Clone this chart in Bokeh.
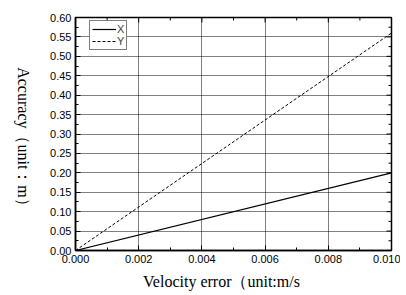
import math
from bokeh.plotting import figure
from bokeh.layouts import row
from bokeh.models import (LinearAxis, FixedTicker, Range1d, Label, Legend, LegendItem,
                          PrintfTickFormatter, Grid)
from bokeh.embed import file_html
from bokeh.resources import INLINE

velocity_error = [0.0, 0.010]
accuracy_x = [0.0, 0.20]
accuracy_y = [0.0, 0.56]
x_ticks = [0.000, 0.002, 0.004, 0.006, 0.008, 0.010]
y_ticks = [0.00, 0.05, 0.10, 0.15, 0.20, 0.25, 0.30, 0.35, 0.40, 0.45, 0.50, 0.55, 0.60]
x_minor = [0.001, 0.003, 0.005, 0.007, 0.009]
y_minor = [0.025, 0.075, 0.125, 0.175, 0.225, 0.275, 0.325, 0.375, 0.425, 0.475, 0.525, 0.575]
X_MIN, X_MAX = 0.0, 0.010
Y_MIN, Y_MAX = 0.0, 0.60
X_TITLE = "Velocity error（unit:m/s"
Y_TITLE = "Accuracy（unit：m）"

H = 292
TW = 45          # width of the strip that carries the y title
MW = 355         # main figure width

# ---- strip with the rotated y-axis title ----
t = figure(width=TW, height=H, output_backend="svg", toolbar_location=None,
           x_axis_type=None, y_axis_type=None, min_border=0,
           x_range=Range1d(0, 1), y_range=Range1d(0, 1))
t.outline_line_color = None
t.grid.visible = False
t.add_layout(Label(x=23, y=H - 182, x_units="screen", y_units="screen",
                   text=Y_TITLE, angle=-math.pi / 2,
                   text_font="Liberation Serif", text_font_size="16px",
                   text_align="center", text_baseline="middle", text_color="black"))

# ---- main plot ----
p = figure(width=MW, height=H, output_backend="svg", toolbar_location=None,
           x_range=Range1d(X_MIN, X_MAX), y_range=Range1d(Y_MIN, Y_MAX),
           x_axis_type=None, y_axis_type=None,
           min_border_left=75 - TW, min_border_right=TW + MW - 391,
           min_border_top=17, min_border_bottom=H - 253)
p.background_fill_color = "white"
p.border_fill_color = "white"
p.outline_line_color = "black"
p.outline_line_width = 1.5

TICK_FONT = "Liberation Sans"

def make_axis(ticks, minor, fmt):
    ax = LinearAxis(ticker=FixedTicker(ticks=ticks, minor_ticks=minor),
                    formatter=PrintfTickFormatter(format=fmt))
    ax.axis_line_color = "black"
    ax.axis_line_width = 1.5
    ax.major_tick_in = 5
    ax.major_tick_out = 0
    ax.minor_tick_in = 3
    ax.minor_tick_out = 0
    ax.major_tick_line_color = "black"
    ax.minor_tick_line_color = "black"
    ax.major_label_text_font = TICK_FONT
    ax.major_label_text_font_size = "11px"
    ax.major_label_text_color = "black"
    ax.major_label_standoff = 4
    return ax

bx = make_axis(x_ticks, x_minor, "%.3f")
bx.axis_label = X_TITLE + "\u2003\u2002"
bx.axis_label_text_font = "Liberation Serif"
bx.axis_label_text_font_style = "normal"
bx.axis_label_text_font_size = "16px"
bx.axis_label_text_color = "black"
bx.axis_label_standoff = 7
ly = make_axis(y_ticks, y_minor, "%.2f")
p.add_layout(bx, "below")
p.add_layout(ly, "left")

gx = Grid(dimension=0, ticker=bx.ticker, grid_line_color="black",
          grid_line_dash="1 1", grid_line_width=1)
gy = Grid(dimension=1, ticker=ly.ticker, grid_line_color="black",
          grid_line_dash="1 1", grid_line_width=1)
p.add_layout(gx)
p.add_layout(gy)

# mirrored inward ticks on the top and right edges (outer half clipped by the frame)
p.scatter(x_ticks, [Y_MAX] * len(x_ticks), marker="dash", angle=math.pi / 2, size=10,
          line_color="black", line_width=1)
p.scatter(x_minor, [Y_MAX] * len(x_minor), marker="dash", angle=math.pi / 2, size=6,
          line_color="black", line_width=1)
p.scatter([X_MAX] * len(y_ticks), y_ticks, marker="dash", size=10,
          line_color="black", line_width=1)
p.scatter([X_MAX] * len(y_minor), y_minor, marker="dash", size=6,
          line_color="black", line_width=1)

rx = p.line(velocity_error, accuracy_x, line_color="black", line_width=1.2)
rY = p.line(velocity_error, accuracy_y, line_color="black", line_width=1.0, line_dash="3 2")

legend = Legend(items=[LegendItem(label="X", renderers=[rx]),
                       LegendItem(label="Y", renderers=[rY])],
                location=(14, 200))
legend.label_text_font = TICK_FONT
legend.label_text_font_size = "11px"
legend.label_height = 12
legend.label_width = 7
legend.glyph_height = 12
legend.glyph_width = 24
legend.label_standoff = 1
legend.padding = 2
legend.spacing = 0
legend.margin = 0
legend.border_line_color = "black"
legend.border_line_width = 1
legend.background_fill_alpha = 1
p.add_layout(legend, "center")

layout = row(t, p, spacing=0)
open("out.html", "w").write(file_html(layout, INLINE))
